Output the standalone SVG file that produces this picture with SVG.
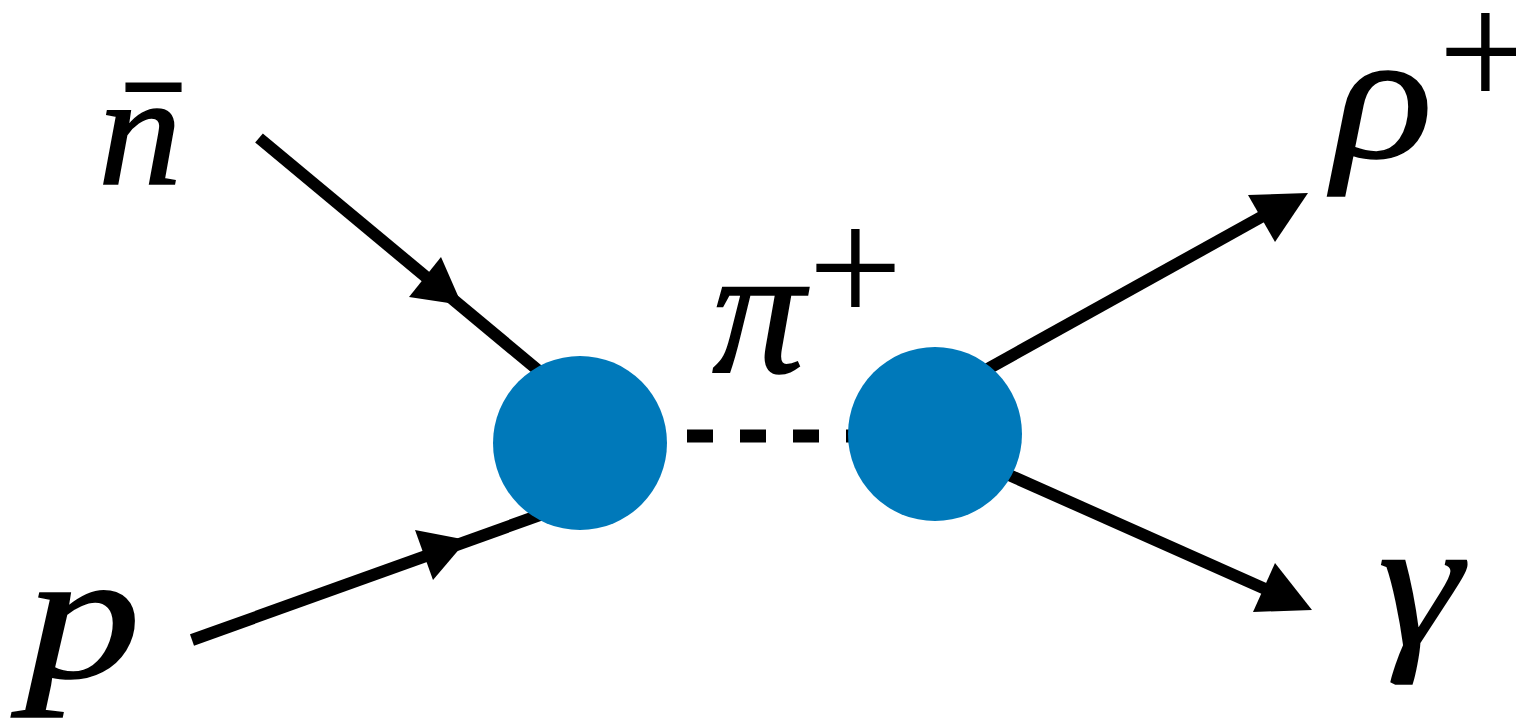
<svg xmlns="http://www.w3.org/2000/svg" width="1516" height="721" viewBox="0 0 1516 721">
<style>
.ln{stroke:#000;stroke-width:12;fill:none}
.ah{fill:#000}
.dash{stroke:#000;stroke-width:13;stroke-dasharray:26 27;fill:none}
.v{fill:#0079BA}
.sym{font-family:"Liberation Serif",serif;font-style:italic;fill:#000;stroke:#000;stroke-width:1.5}
.pl{font-family:"Liberation Serif",serif;font-size:168px;fill:#000}
</style>
<rect width="1516" height="721" fill="#fff"/>
<g id="connectors">
<line class="ln" x1="259" y1="138" x2="545" y2="376"/>
<polygon class="ah" points="462,305 441,257 409,297"/>
<line class="ln" x1="192" y1="640" x2="565" y2="506"/>
<polygon class="ah" points="467,540 415,530 433,580"/>
<line class="ln" x1="975" y1="376" x2="1290" y2="201"/>
<polygon class="ah" points="1308,193 1248,195 1275,242"/>
<line class="ln" x1="1000" y1="471" x2="1290" y2="600"/>
<polygon class="ah" points="1312,610 1275,563 1253,612"/>
<line class="dash" x1="687" y1="436" x2="860" y2="436"/>
</g>
<g id="vertex-left"><circle class="v" cx="580" cy="443" r="87"/></g>
<g id="vertex-right"><circle class="v" cx="935" cy="434" r="87"/></g>
<g id="label-nbar"><text class="sym" x="98" y="184" font-size="158" textLength="84" lengthAdjust="spacingAndGlyphs">n</text><text x="127" y="205" font-family="Liberation Serif, serif" font-size="160" stroke="#000" stroke-width="2" textLength="53" lengthAdjust="spacingAndGlyphs">¯</text></g>
<g id="label-p"><text class="sym" x="25" y="678" font-size="185" textLength="116" lengthAdjust="spacingAndGlyphs">p</text></g>
<g id="label-pi"><text class="sym" x="712" y="372" font-size="185">π</text><text class="pl" x="808" y="324">+</text></g>
<g id="label-rho"><text class="sym" x="1333" y="157" font-size="182" textLength="100" lengthAdjust="spacingAndGlyphs">ρ</text><text class="pl" x="1438" y="108">+</text></g>
<g id="label-gamma"><text class="sym" x="1378" y="645" font-size="185" textLength="84" lengthAdjust="spacingAndGlyphs">γ</text></g>
</svg>
